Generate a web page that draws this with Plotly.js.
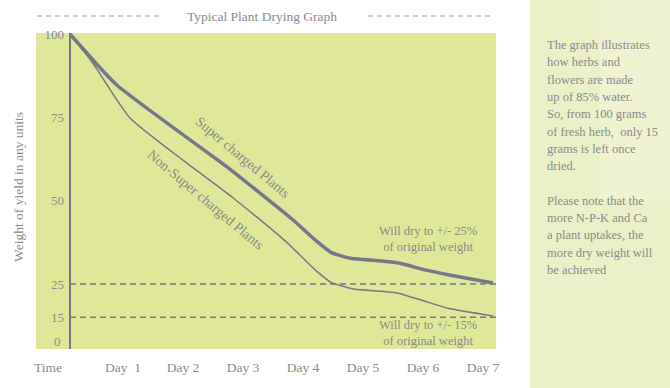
<!DOCTYPE html>
<html>
<head>
<meta charset="utf-8">
<script src="https://cdn.plot.ly/plotly-3.0.1.min.js"></script>
<style>html,body{margin:0;padding:0;background:#fff;}#chart{width:670px;height:388px;}</style>
</head>
<body>
<div id="chart"></div>
<script>
// ---- data ----
var superDays    = [0, 0.78, 2.61, 3.7, 4.1, 4.35, 4.67, 5.2, 5.5, 5.9, 6.3, 7.05];
var superValues  = [100, 84.7, 60.2, 44.5, 38.0, 34.5, 32.7, 31.9, 31.2, 29.3, 27.8, 25.3];
var nonSuperDays   = [0, 0.38, 1.0, 2.72, 3.6, 4.1, 4.35, 4.72, 5.2, 5.5, 5.9, 6.3, 7.05];
var nonSuperValues = [100, 91.3, 74.8, 50.8, 37.7, 29.0, 25.5, 23.5, 22.8, 22.1, 19.9, 17.7, 15.4];
var xTickVals = [-0.25, 1, 2, 3, 4, 5, 6, 7];
var xTickText = ["Time", "Day \u00a01", "Day 2", "Day 3", "Day 4", "Day 5", "Day 6", "Day 7"];
var yTickVals = [100, 75, 50, 25, 15];
var yTickText = ["100", "75", "50", "25", "15"];
var dryLevels = [25, 15];
var panelLines = ["The graph illustrates", "how herbs and", "flowers are made", "up of 85% water.",
  "So, from 100 grams", "of fresh herb,\u00a0 only 15", "grams is left once", "dried.", "",
  "Please note that the", "more N-P-K and Ca", "a plant uptakes, the", "more dry weight will", "be achieved"];

// ---- style ----
var FONT = "Liberation Serif, Times New Roman, serif";
var TXT = "#8a8a8a";
var LINE = "#77768a";
var W = 670, H = 388, ML = 36, MR = 174, MT = 33, MB = 39;
var PW = W - ML - MR, PH = H - MT - MB;
function px(x) { return (x - ML) / PW; }
function py(y) { return (H - MB - y) / PH; }

var traces = [
  {x: superDays, y: superValues, mode: "lines", line: {color: LINE, width: 3.5, shape: "spline", smoothing: 0.5}, hoverinfo: "skip"},
  {x: nonSuperDays, y: nonSuperValues, mode: "lines", line: {color: LINE, width: 1.5, shape: "spline", smoothing: 0.5}, hoverinfo: "skip"}
];

var shapes = [
  {type: "rect", xref: "paper", yref: "paper", x0: px(530), x1: px(670), y0: py(388), y1: py(0), fillcolor: "#ebf1c6", line: {width: 0}, layer: "below"},
  {type: "rect", xref: "paper", yref: "paper", x0: px(600), x1: px(670), y0: py(200), y1: py(0), fillcolor: "#f1f5d6", opacity: 0.6, line: {width: 0}, layer: "below"},
  {type: "line", xref: "paper", yref: "paper", x0: px(37), x1: px(162), y0: py(16), y1: py(16), line: {color: "#999", width: 1, dash: "5px,4px"}},
  {type: "line", xref: "paper", yref: "paper", x0: px(368), x1: px(493), y0: py(16), y1: py(16), line: {color: "#999", width: 1, dash: "5px,4px"}}
];
dryLevels.forEach(function (v) {
  shapes.push({type: "line", xref: "x", yref: "y", x0: 0, x1: 7.1, y0: v, y1: v, line: {color: LINE, width: 1.5, dash: "6px,4px"}});
});

function ann(text, x, y, size, extra) {
  var a = {text: text, xref: "paper", yref: "paper", x: px(x), y: py(y), xanchor: "center", yanchor: "middle",
    showarrow: false, font: {family: FONT, size: size, color: TXT}};
  for (var k in (extra || {})) a[k] = extra[k];
  return a;
}
var annotations = [
  ann("Super charged Plants", 243, 157, 14, {textangle: 40}),
  ann("Non-Super charged Plants", 205, 200, 14, {textangle: 40}),
  ann("Will dry to +/- 25%<br>of original weight", 428, 239.5, 12.5),
  ann("Will dry to +/- 15%<br>of original weight", 428, 333, 12.5),
  ann("0", 63, 341, 13, {xanchor: "right"}),
  ann("Weight of yield in any units", 18, 187, 13.5, {textangle: -90})
];
panelLines.forEach(function (t, i) {
  if (!t) return;
  annotations.push(ann(t, 545, 45 + i * 17.3, 12.5, {xanchor: "left"}));
});

var layout = {
  width: W, height: H,
  margin: {l: ML, r: MR, t: MT, b: MB, pad: 0},
  paper_bgcolor: "#ffffff",
  plot_bgcolor: "#dfe899",
  showlegend: false,
  title: {text: "Typical Plant Drying Graph", x: 262 / W, xanchor: "center", y: 1 - 16 / H, yanchor: "middle", font: {family: FONT, size: 13.5, color: TXT}},
  xaxis: {range: [-34 / 60, 7.1], tickvals: xTickVals, ticktext: xTickText, ticks: "", showgrid: false,
    zeroline: true, zerolinecolor: LINE, zerolinewidth: 2, showline: false, ticklabelshift: -7, ticklabelstandoff: 8,
    tickfont: {family: FONT, size: 13.5, color: TXT}, fixedrange: true},
  yaxis: {range: [5.5, 100.3], tickvals: yTickVals, ticktext: yTickText, ticks: "", showgrid: false, zeroline: false,
    anchor: "free", position: (70 - ML) / PW, showline: false, ticklabelstandoff: 6,
    tickfont: {family: FONT, size: 13, color: TXT}, fixedrange: true},
  shapes: shapes,
  annotations: annotations
};

Plotly.newPlot("chart", traces, layout, {staticPlot: true, displayModeBar: false});
</script>
</body>
</html>
